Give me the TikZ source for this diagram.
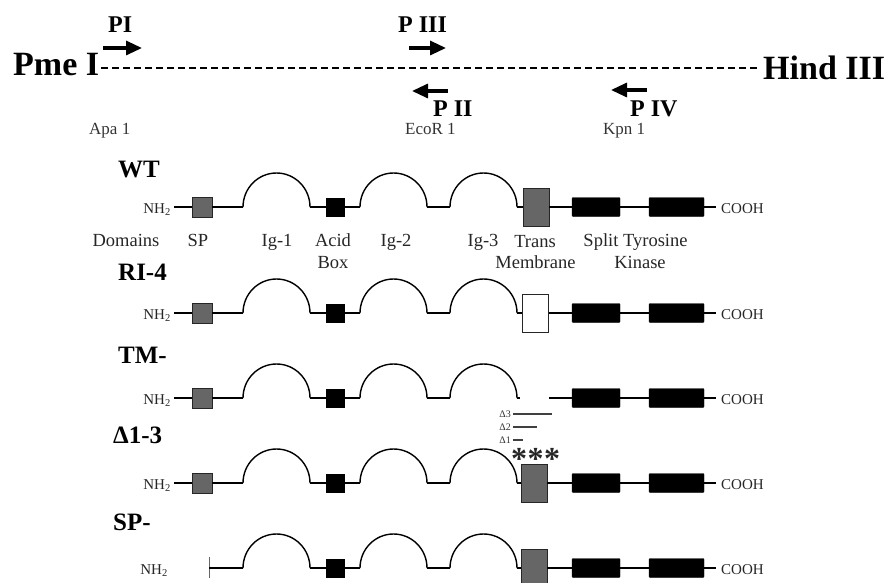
\documentclass[tikz,border=0pt]{standalone}
\usepackage{fontspec}
\setmainfont{Liberation Serif}
\usetikzlibrary{arrows.meta}
\definecolor{boxgray}{gray}{0.40}
\newcommand\fs[1]{\fontsize{#1}{#1}\selectfont}
\newcommand\igrow[2]{%
  \coordinate (iga#1) at (243,#2);
  \coordinate (igb#1) at (310,#2);
  \node[acidbox] (ab#1) at (335,#2) {};
  \coordinate (igc#1) at (360,#2);
  \coordinate (igd#1) at (427,#2);
  \coordinate (ige#1) at (450,#2);
  \coordinate (igf#1) at (517,#2);
  \draw[igarc] (iga#1) arc[start angle=180,end angle=0,x radius=33.5pt,y radius=34pt];
  \draw[bb] (igb#1) -- (ab#1.west);
  \draw[bb] (ab#1.east) -- (igc#1);
  \draw[igarc] (igc#1) arc[start angle=180,end angle=0,x radius=33.5pt,y radius=34pt];
  \draw[bb] (igd#1) -- (ige#1);
  \draw[igarc] (ige#1) arc[start angle=180,end angle=0,x radius=33.5pt,y radius=34pt];
}
\newcommand\tkrow[3]{%
  \node[tkbox,minimum width=48pt] (tka#1) at (596,#2) {};
  \node[tkbox,minimum width=55pt] (tkb#1) at (676.5,#2) {};
  \coordinate (ce#1) at (716,#2);
  \node[cooh] (cooh#1) at (721,#2+6) {COOH};
  \draw[bb] (#3) -- (tka#1.west);
  \draw[bb] (tka#1.east) -- (tkb#1.west);
  \draw[bb] (tkb#1.east) -- (ce#1);
}
\newcommand\nterm[2]{%
  \node[nh] (nh#1) at (171,#2+6) {NH\textsubscript{2}};
  \node[spbox] (sp#1) at (202,#2) {};
  \draw[bb] ([xshift=3pt]nh#1.east |- sp#1.west) -- (sp#1.west);
  \draw[bb] (sp#1.east) -- (iga#1);
}
\begin{document}
\begin{tikzpicture}[x=1pt,y=-1pt,
  bb/.style={line width=1.9pt},
  igarc/.style={line width=1.4pt},
  spbox/.style={draw=black!85,line width=0.8pt,fill=boxgray,minimum width=20pt,minimum height=20pt,inner sep=0pt},
  acidbox/.style={draw=black,fill=black,minimum width=18pt,minimum height=18pt,inner sep=0pt},
  tmbox/.style={draw=black!85,line width=0.8pt,fill=boxgray,minimum width=26pt,minimum height=38pt,inner sep=0pt},
  tkbox/.style={draw=black,fill=black,minimum height=19pt,inner sep=0pt,rounded corners=1pt},
  rowlabel/.style={font=\fs{25}\bfseries,anchor=base west,inner sep=0pt},
  biglabel/.style={font=\fs{34}\bfseries,anchor=base west,inner sep=0pt},
  plab/.style={font=\fs{24}\bfseries,anchor=base west,inner sep=0pt},
  site/.style={font=\fs{17},anchor=base west,inner sep=0pt,text=black!80},
  dom/.style={font=\fs{18.5},anchor=base,inner sep=0pt,text=black!85},
  nh/.style={font=\fs{15},anchor=base east,inner sep=0pt,text=black!85},
  cooh/.style={font=\fs{15},anchor=base west,inner sep=0pt,text=black!85},
  dlab/.style={font=\fs{10},anchor=base east,inner sep=0pt,text=black!80},
  dline/.style={line width=1.3pt,black!75},
  starlab/.style={font=\fs{32}\bfseries,inner sep=0pt,text=black!85},
  primer/.style={line width=3.2pt,-{Triangle[length=16pt,width=14pt]}},
  dashline/.style={line width=1.6pt,dash pattern=on 7pt off 4pt}
]
\clip (0,0) rectangle (886,583);
% ---------- restriction map ----------
\node[biglabel] (pme) at (13,76) {Pme I};
\node[biglabel] (hind) at (763,80) {Hind III};
\coordinate (dl) at (101,68);
\coordinate (dr) at (759,68);
\draw[dashline] (dl) -- (dr);
\node[plab] (pI) at (108,33) {PI};
\node[plab] (pIII) at (398,33) {P III};
\node[plab] (pII) at (433,117) {P II};
\node[plab] (pIV) at (630,117) {P IV};
\coordinate (a1s) at (103,48);  \coordinate (a1e) at (142,48);
\coordinate (a3s) at (409,48);  \coordinate (a3e) at (446,48);
\coordinate (a2s) at (448,91);  \coordinate (a2e) at (412,91);
\coordinate (a4s) at (647,90);  \coordinate (a4e) at (611,90);
\draw[primer] (a1s) -- (a1e);
\draw[primer] (a3s) -- (a3e);
\draw[primer] (a2s) -- (a2e);
\draw[primer] (a4s) -- (a4e);
\node[site] (apa) at (89,135) {Apa 1};
\node[site] (eco) at (405,135) {EcoR 1};
\node[site] (kpn) at (603,135) {Kpn 1};
% ---------- WT ----------
\node[rowlabel] (lwt) at (118,178) {WT};
\igrow{1}{207}
\nterm{1}{207}
\node[tmbox] (tm1) at (536,207) {};
\draw[bb] (igf1) -- (tm1.west);
\tkrow{1}{207}{tm1.east}
\node[dom] (tdom) at (126,246) {Domains};
\node[dom] (tsp) at (198,246) {SP};
\node[dom] (tig1) at (277,246) {Ig-1};
\node[dom] (tacid) at (333,246) {Acid};
\node[dom] (tbox) at (333,268) {Box};
\node[dom] (tig2) at (396,246) {Ig-2};
\node[dom] (tig3) at (483,246) {Ig-3};
\node[dom] (ttrans) at (535,247) {Trans};
\node[dom] (tmem) at (535.5,268) {Membrane};
\node[dom] (tsplit) at (635.5,246) {Split Tyrosine};
\node[dom] (tkin) at (640,268) {Kinase};
% ---------- RI-4 ----------
\node[rowlabel] (lri) at (118,280) {RI-4};
\igrow{2}{313}
\nterm{2}{313}
\node[tmbox,fill=white] (tm2) at (535.5,313) {};
\draw[bb] (igf2) -- (tm2.west);
\tkrow{2}{313}{tm2.east}
% ---------- TM- ----------
\node[rowlabel] (ltm) at (118,363) {TM-};
\igrow{3}{398}
\nterm{3}{398}
\coordinate (stub3) at (520,398);
\draw[bb] (igf3) -- (stub3);
\coordinate (tmr3) at (549,398);
\tkrow{3}{398}{tmr3}
\node[dlab] (d3) at (511,417) {Δ3};
\node[dlab] (d2) at (511,430) {Δ2};
\node[dlab] (d1) at (511,443) {Δ1};
\coordinate (d3e) at (552,414);
\coordinate (d2e) at (537,427);
\coordinate (d1e) at (523,440);
\draw[dline] ([xshift=2pt]d3.east |- d3e) -- (d3e);
\draw[dline] ([xshift=2pt]d2.east |- d2e) -- (d2e);
\draw[dline] ([xshift=2pt]d1.east |- d1e) -- (d1e);
\node[starlab] (s1) at (519,459) {*};
\node[starlab] (s2) at (535.5,459) {*};
\node[starlab] (s3) at (552,459) {*};
% ---------- Delta 1-3 ----------
\node[rowlabel] (ldel) at (113,443) {Δ1-3};
\igrow{4}{483}
\nterm{4}{483}
\node[tmbox] (tm4) at (534,483) {};
\draw[bb] (igf4) -- (tm4.west);
\tkrow{4}{483}{tm4.east}
% ---------- SP- ----------
\node[rowlabel] (lsp) at (113,530) {SP-};
\igrow{5}{568}
\node[nh] (nh5) at (168,574) {NH\textsubscript{2}};
\coordinate (tick5) at (209,568);
\draw[line width=0.9pt,black!60] ([yshift=11pt]tick5) -- ([yshift=-10pt]tick5);
\draw[bb] (tick5) -- (iga5);
\node[tmbox] (tm5) at (534,568) {};
\draw[bb] (igf5) -- (tm5.west);
\tkrow{5}{568}{tm5.east}
\end{tikzpicture}
\end{document}
